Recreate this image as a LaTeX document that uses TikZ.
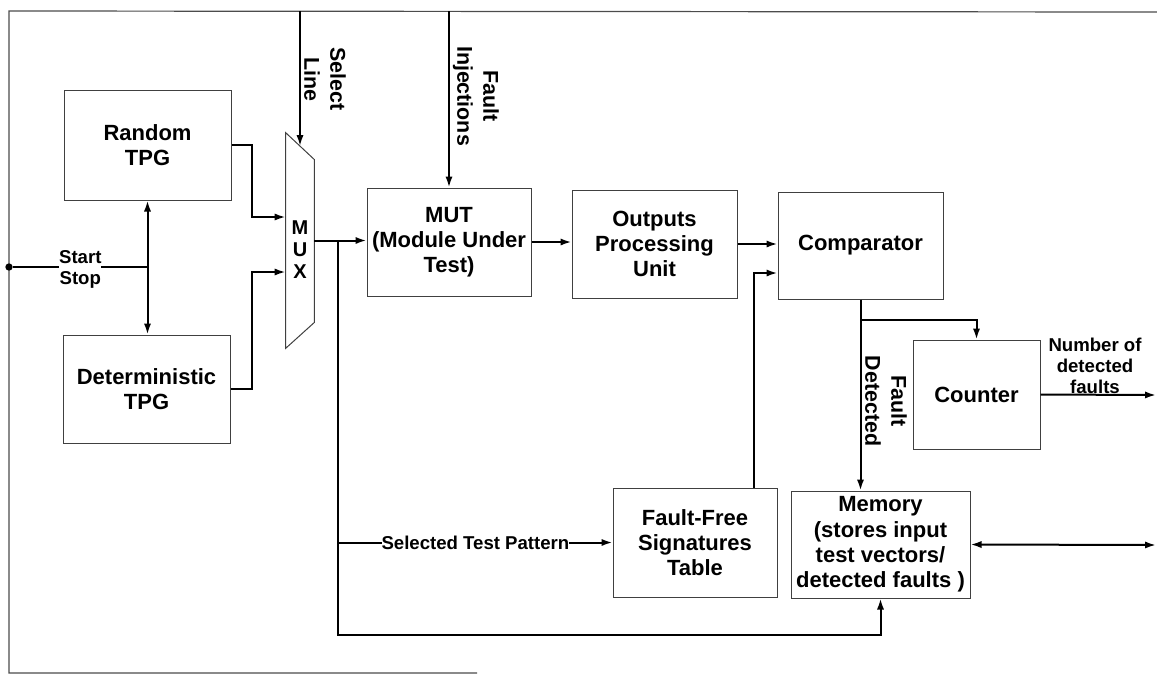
\documentclass[tikz,border=0pt]{standalone}
\usepackage{fontspec}
\setmainfont{Liberation Sans}
\usetikzlibrary{arrows.meta,calc}

\begin{document}
\begin{tikzpicture}[x=0.5pt,y=-0.5pt,
  blk/.style={draw=black!75,line width=0.5pt,align=center,inner sep=2pt,
    font=\bfseries\fontsize{11}{12.6}\selectfont},
  lbl/.style={align=center,font=\bfseries\fontsize{9.3}{10.5}\selectfont},
  vlbl/.style={align=center,rotate=-90,font=\bfseries\fontsize{10.7}{13}\selectfont},
  wire/.style={line width=1pt},
  arr/.style={wire,-{Latex[length=5.5pt,width=3.6pt]}},
  darr/.style={wire,{Latex[length=5.5pt,width=3.6pt]}-{Latex[length=5.5pt,width=3.6pt]}}]
  \useasboundingbox (0,0) rectangle (1157,676);
  \draw[black!70,line width=0.6pt] (1157,12) -- (9,11) -- (9,673) -- (477,673);

  \node[blk,minimum width=83.5pt,minimum height=55pt] (rand) at (147.5,145) {Random\\TPG};
  \node[blk,minimum width=83.5pt,minimum height=54pt] (det) at (146.5,389) {Deterministic\\TPG};
  \node[minimum width=14pt,minimum height=107.5pt,inner sep=0pt] (mux) at (300,240.5) {};
  \draw[black!75,line width=0.5pt] (mux.north west) -- ($(mux.north east)+(0,27)$)
    -- ($(mux.south east)+(0,-26)$) -- (mux.south west) -- cycle;
  \node[lbl,font=\bfseries\fontsize{10}{11}\selectfont] (muxtxt) at (300,250) {M\\U\\X};
  \node[blk,minimum width=82pt,minimum height=54pt] (mut) at (449,242) {MUT\\(Module Under\\Test)};
  \node[blk,minimum width=82.5pt,minimum height=54pt] (opu) at (654.5,244) {Outputs\\Processing\\Unit};
  \node[blk,minimum width=82.5pt,minimum height=53.5pt] (comp) at (860.5,245.5) {Comparator};
  \node[blk,minimum width=63.5pt,minimum height=54.5pt] (counter) at (976.5,394.5) {Counter};
  \node[blk,minimum width=82pt,minimum height=54.5pt] (ffst) at (695,542.5) {Fault-Free\\Signatures\\Table};
  \node[blk,minimum width=89.5pt,minimum height=53.5pt] (mem) at (880.5,544.5) {Memory\\(stores input\\test vectors/\\detected faults )};
  \node[circle,fill,inner sep=1.3pt] (start) at (9,267) {};
  \coordinate (cntout) at (1156,395);
  \coordinate (memout) at (1156,545);

  \draw[arr] (rand.east) -- ++(20,0) |- ($(mux.west)+(0,-23.5)$);
  \draw[arr] (det.east) -- ++(21,0) |- ($(mux.west)+(0,31.5)$);
  \draw[darr] (rand.south) -- (rand.south |- det.north);
  \draw[wire] (start) -- (start -| rand.south)
    node[midway,lbl,fill=white,inner sep=0pt,yshift=-1pt] {Start\\Stop};

  \draw[arr] (mux.north |- 0,11) -- ($(mux.north)+(0,13.5)$);
  \node[vlbl] (sel) at (325,79) {Select\\Line};
  \draw[arr] (mut.north |- 0,11) -- (mut.north);
  \node[vlbl] (finj) at (476,96) {Fault\\Injections};

  \draw[arr] (mux.east) -- (mux.east -| mut.west);
  \coordinate (jn) at ($(mux.east)+(24,0)$);
  \draw[arr] (jn) |- ($(mem.south)+(0,36)$) -- (mem.south);
  \draw[arr] (jn |- ffst.west) -- (ffst.west)
    node[midway,lbl,fill=white,inner sep=0pt] {Selected Test Pattern};

  \draw[arr] (mut.east) -- (mut.east -| opu.west);
  \draw[arr] (opu.east) -- (opu.east -| comp.west);
  \draw[arr] ($(ffst.north)+(59,0)$) |- ($(comp.west)+(0,27.5)$);
  \draw[arr] (comp.south) -- (comp.south |- mem.north);
  \draw[arr] ($(comp.south)+(0,20)$) -| (counter.north);
  \node[vlbl] (fdet) at (886,401) {Fault\\Detected};
  \draw[arr] (counter.east) -- (cntout);
  \node[lbl] (nof) at (1095,366) {Number of\\detected\\faults};
  \draw[darr] (mem.east) -- (memout);
\end{tikzpicture}
\end{document}
